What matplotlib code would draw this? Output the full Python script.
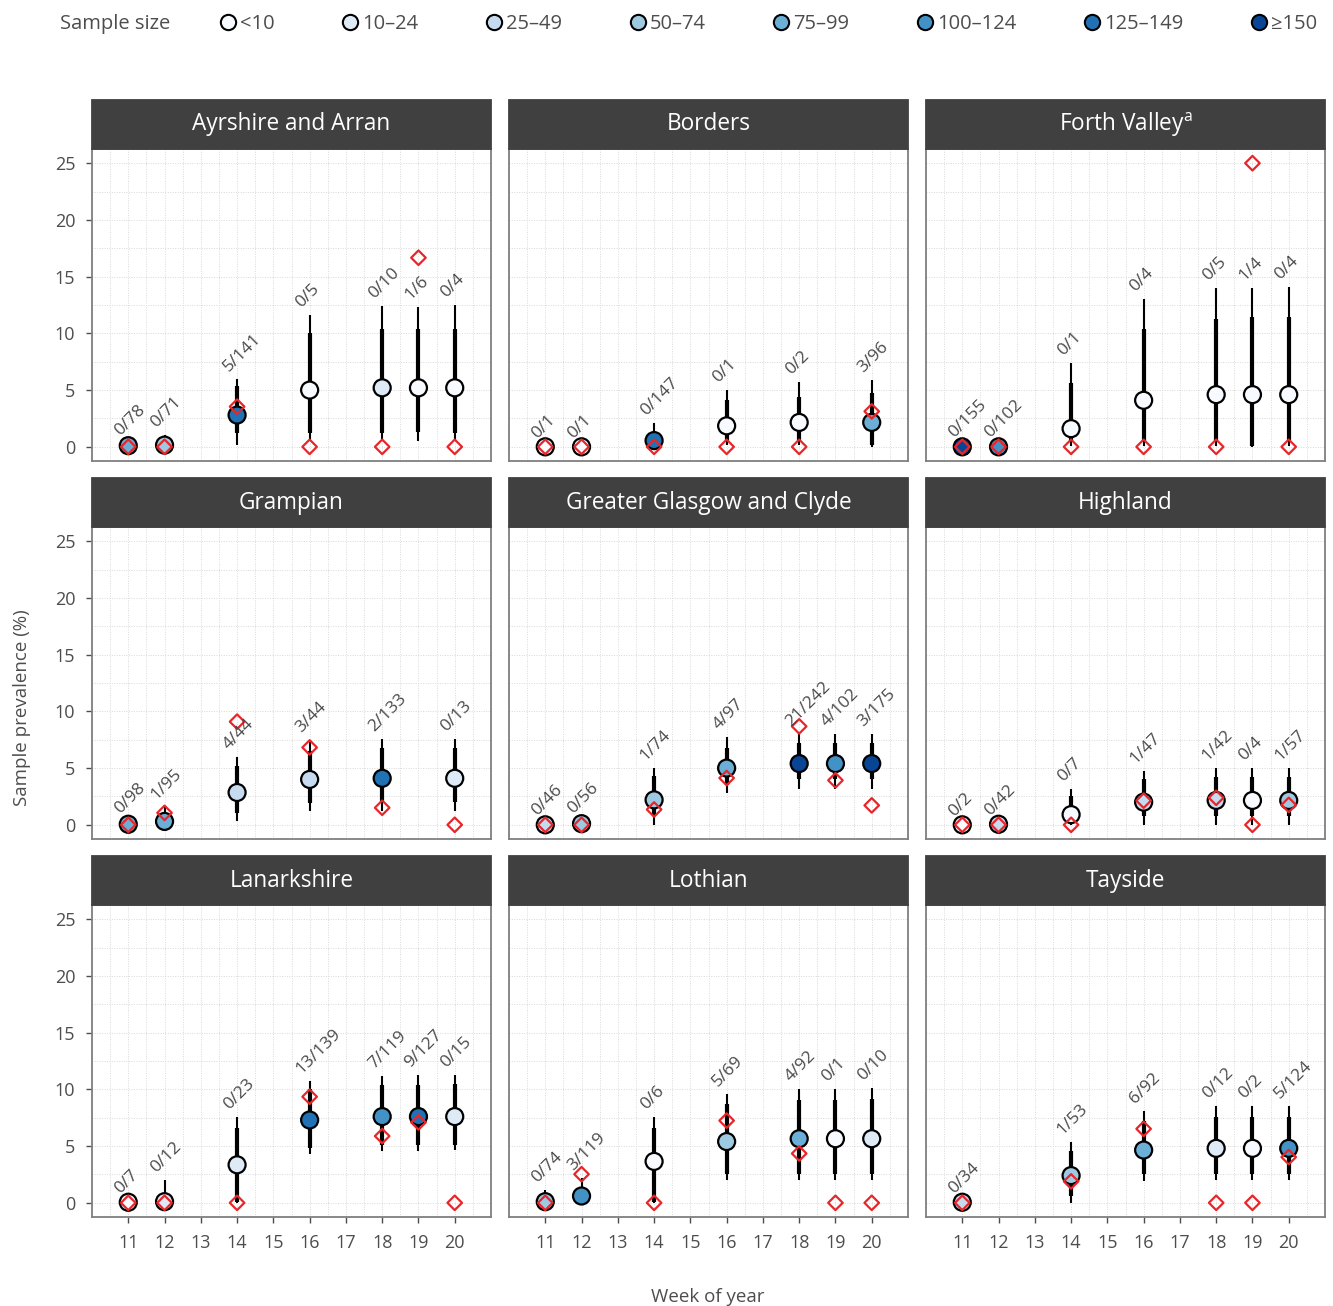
import numpy as np
import matplotlib
matplotlib.use("Agg")
import matplotlib.pyplot as plt
from matplotlib.lines import Line2D
from matplotlib.patches import Rectangle
from matplotlib.ticker import MultipleLocator

plt.rcParams['font.family'] = ['Open Sans', 'DejaVu Sans']
plt.rcParams['mathtext.fontset'] = 'custom'
plt.rcParams['mathtext.rm'] = 'Open Sans'

boards = ["Ayrshire and Arran", "Borders", "Forth Valley$^{\\mathrm{a}}$",
          "Grampian", "Greater Glasgow and Clyde", "Highland",
          "Lanarkshire", "Lothian", "Tayside"]

weeks = [
    [11, 12, 14, 16, 18, 19, 20],
    [11, 12, 14, 16, 18, 20],
    [11, 12, 14, 16, 18, 19, 20],
    [11, 12, 14, 16, 18, 20],
    [11, 12, 14, 16, 18, 19, 20],
    [11, 12, 14, 16, 18, 19, 20],
    [11, 12, 14, 16, 18, 19, 20],
    [11, 12, 14, 16, 18, 19, 20],
    [11, 14, 16, 18, 19, 20],
]
positives = [
    [0, 0, 5, 0, 0, 1, 0],
    [0, 0, 0, 0, 0, 3],
    [0, 0, 0, 0, 0, 1, 0],
    [0, 1, 4, 3, 2, 0],
    [0, 0, 1, 4, 21, 4, 3],
    [0, 0, 0, 1, 1, 0, 1],
    [0, 0, 0, 13, 7, 9, 0],
    [0, 3, 0, 5, 4, 0, 0],
    [0, 1, 6, 0, 0, 5],
]
tested = [
    [78, 71, 141, 5, 10, 6, 4],
    [1, 1, 147, 1, 2, 96],
    [155, 102, 1, 4, 5, 4, 4],
    [98, 95, 44, 44, 133, 13],
    [46, 56, 74, 97, 242, 102, 175],
    [2, 42, 7, 47, 42, 4, 57],
    [7, 12, 23, 139, 119, 127, 15],
    [74, 119, 6, 69, 92, 1, 10],
    [34, 53, 92, 12, 2, 124],
]
# modelled prevalence (%) with 80% and 95% intervals
estimate = [
    [0.1, 0.15, 2.8, 5.0, 5.2, 5.2, 5.2],
    [0.0, 0.0, 0.55, 1.85, 2.15, 2.15],
    [0.0, 0.0, 1.6, 4.1, 4.6, 4.6, 4.6],
    [0.05, 0.3, 2.85, 4.0, 4.1, 4.1],
    [0.0, 0.1, 2.2, 5.0, 5.4, 5.4, 5.4],
    [0.0, 0.05, 0.9, 2.0, 2.15, 2.15, 2.15],
    [0.05, 0.1, 3.35, 7.3, 7.6, 7.6, 7.6],
    [0.1, 0.6, 3.65, 5.4, 5.65, 5.65, 5.65],
    [0.05, 2.4, 4.65, 4.8, 4.8, 4.8],
]
hi95 = [
    [0.3, 1.0, 6.0, 11.6, 12.4, 12.3, 12.5],
    [0.1, 0.1, 2.1, 5.0, 5.75, 5.9],
    [0.2, 0.2, 7.4, 13.0, 14.0, 14.0, 14.1],
    [0.3, 1.6, 6.0, 7.5, 7.6, 7.6],
    [0.2, 0.3, 5.0, 7.7, 8.0, 8.0, 8.0],
    [0.1, 0.2, 3.2, 4.7, 5.0, 5.05, 5.05],
    [0.2, 2.0, 7.6, 10.7, 11.2, 11.3, 11.3],
    [1.1, 2.2, 7.6, 9.6, 10.0, 10.05, 10.1],
    [0.2, 5.4, 8.05, 8.5, 8.5, 8.5],
]
hi80 = [
    [0.2, 0.6, 5.4, 10.0, 10.4, 10.4, 10.4],
    [0.05, 0.05, 1.35, 4.1, 4.4, 4.7],
    [0.1, 0.1, 5.6, 10.4, 11.3, 11.4, 11.4],
    [0.2, 1.0, 5.2, 6.5, 6.8, 6.8],
    [0.1, 0.2, 4.3, 6.8, 7.2, 7.2, 7.2],
    [0.05, 0.1, 2.5, 4.0, 4.2, 4.2, 4.2],
    [0.1, 0.85, 6.6, 10.0, 10.35, 10.4, 10.45],
    [0.5, 1.4, 6.6, 8.75, 9.05, 9.1, 9.15],
    [0.1, 4.6, 7.2, 7.6, 7.6, 7.6],
]
lo80 = [
    [0.0, 0.0, 1.2, 1.2, 1.2, 1.3, 1.2],
    [0.0, 0.0, 0.05, 0.4, 0.4, 0.15],
    [0.0, 0.0, 0.5, 0.4, 0.4, 0.1, 0.4],
    [0.0, 0.1, 1.0, 1.9, 2.05, 2.05],
    [0.0, 0.0, 0.75, 3.5, 4.0, 4.0, 4.0],
    [0.0, 0.0, 0.1, 0.75, 0.75, 0.75, 0.75],
    [0.0, 0.0, 0.1, 4.8, 5.1, 5.1, 5.1],
    [0.0, 0.2, 0.1, 2.5, 2.5, 2.5, 2.5],
    [0.0, 0.6, 2.55, 2.5, 2.5, 2.5],
]
lo95 = [
    [0.0, 0.0, 0.15, 0.6, 0.65, 0.5, 0.6],
    [0.0, 0.0, 0.0, 0.15, 0.15, 0.0],
    [0.0, 0.0, 0.05, 0.05, 0.05, 0.0, 0.05],
    [0.0, 0.0, 0.3, 1.2, 1.2, 1.2],
    [0.0, 0.0, 0.0, 2.8, 3.15, 3.15, 3.15],
    [0.0, 0.0, 0.0, 0.0, 0.0, 0.0, 0.0],
    [0.0, 0.0, 0.0, 4.3, 4.6, 4.6, 4.65],
    [0.0, 0.05, 0.0, 2.0, 2.05, 2.05, 2.05],
    [0.0, 0.0, 1.9, 2.0, 2.0, 2.0],
]

size_labels = ["<10", "10\u201324", "25\u201349", "50\u201374", "75\u201399",
               "100\u2013124", "125\u2013149", "\u2265150"]
size_edges = [10, 25, 50, 75, 100, 125, 150]
blues = ["#f7fbff", "#deebf7", "#c6dbef", "#9ecae1", "#6baed6",
         "#4292c6", "#2171b5", "#084594"]

W, H = 1333, 1306
fig = plt.figure(figsize=(W / 100, H / 100), dpi=100)

col_left = [92, 509, 926]
row_bottom = [461, 839, 1217]
pw, ph, strip_h = 399, 312, 49

for i, name in enumerate(boards):
    r, c = divmod(i, 3)
    ax = fig.add_axes([col_left[c] / W, 1 - row_bottom[r] / H, pw / W, ph / H])
    wk = np.array(weeks[i])
    pos = np.array(positives[i])
    n = np.array(tested[i])
    raw = 100 * pos / n
    cols = [blues[k] for k in np.digitize(n, size_edges)]

    ax.vlines(wk, lo95[i], hi95[i], color="black", lw=1.5, zorder=3)
    ax.vlines(wk, lo80[i], hi80[i], color="black", lw=3.0, zorder=3)
    ax.scatter(wk, estimate[i], s=150, c=cols, edgecolors="black",
               linewidths=1.6, zorder=4)
    ax.scatter(wk, raw, s=55, marker="D", facecolors="none",
               edgecolors="#e8262a", linewidths=1.6, zorder=5)
    for x, y, p, t in zip(wk, hi95[i], pos, n):
        ax.annotate(f"{p}/{t}", (x, y), xytext=(-4, 3), textcoords="offset points",
                    rotation=45, rotation_mode="anchor", ha="left", va="bottom",
                    fontsize=12.5, color="#4a4a4a", zorder=6)

    ax.set_xlim(10, 21)
    ax.set_ylim(-1.25, 26.25)
    ax.xaxis.set_major_locator(MultipleLocator(1))
    ax.xaxis.set_minor_locator(MultipleLocator(0.5))
    ax.yaxis.set_major_locator(MultipleLocator(5))
    ax.yaxis.set_minor_locator(MultipleLocator(2.5))
    ax.grid(True, which="both", color="#d9d9d9", lw=0.7, ls=(0, (1, 1.5)))
    ax.set_axisbelow(True)
    ax.set_xticks(np.arange(11, 21))
    for s in ax.spines.values():
        s.set_color("#7f7f7f")
        s.set_linewidth(1.3)
    ax.tick_params(which="minor", length=0)
    ax.tick_params(which="major", colors="#4d4d4d", labelsize=13, length=4,
                   width=1, pad=8)
    if r < 2:
        ax.tick_params(axis="x", which="major", length=0, labelbottom=False)
    if c > 0:
        ax.tick_params(axis="y", which="major", length=0, labelleft=False)

    ax.add_patch(Rectangle((0, 1), 1, strip_h / ph, transform=ax.transAxes,
                           facecolor="#404040", edgecolor="#404040", lw=1.3,
                           clip_on=False, zorder=10))
    ax.text(0.5, 1 + strip_h / ph / 2, name, transform=ax.transAxes,
            ha="center", va="center", color="white", fontsize=16.3, zorder=11)

fig.text(708 / W, 1 - 1297 / H, "Week of year", ha="center", va="center",
         fontsize=13.5, color="#4d4d4d")
fig.text(22 / W, 1 - 708 / H, "Sample prevalence (%)", ha="center", va="center",
         rotation=90, fontsize=13.5, color="#4d4d4d")

fig.text(60 / W, 1 - 24 / H, "Sample size", ha="left", va="center",
         fontsize=14.5, color="#4d4d4d")
handles = [Line2D([], [], ls="none", marker="o", markersize=11,
                  markerfacecolor=b, markeredgecolor="black",
                  markeredgewidth=1.5) for b in blues]
fig.legend(handles, size_labels, ncol=8, loc="center left",
           bbox_to_anchor=(209 / W, 1 - 24 / H), frameon=False,
           handlelength=0.9, handletextpad=0.15, columnspacing=3.3,
           fontsize=14.5, labelcolor="#4d4d4d", borderpad=0)

fig.savefig("out.png", dpi=100)
